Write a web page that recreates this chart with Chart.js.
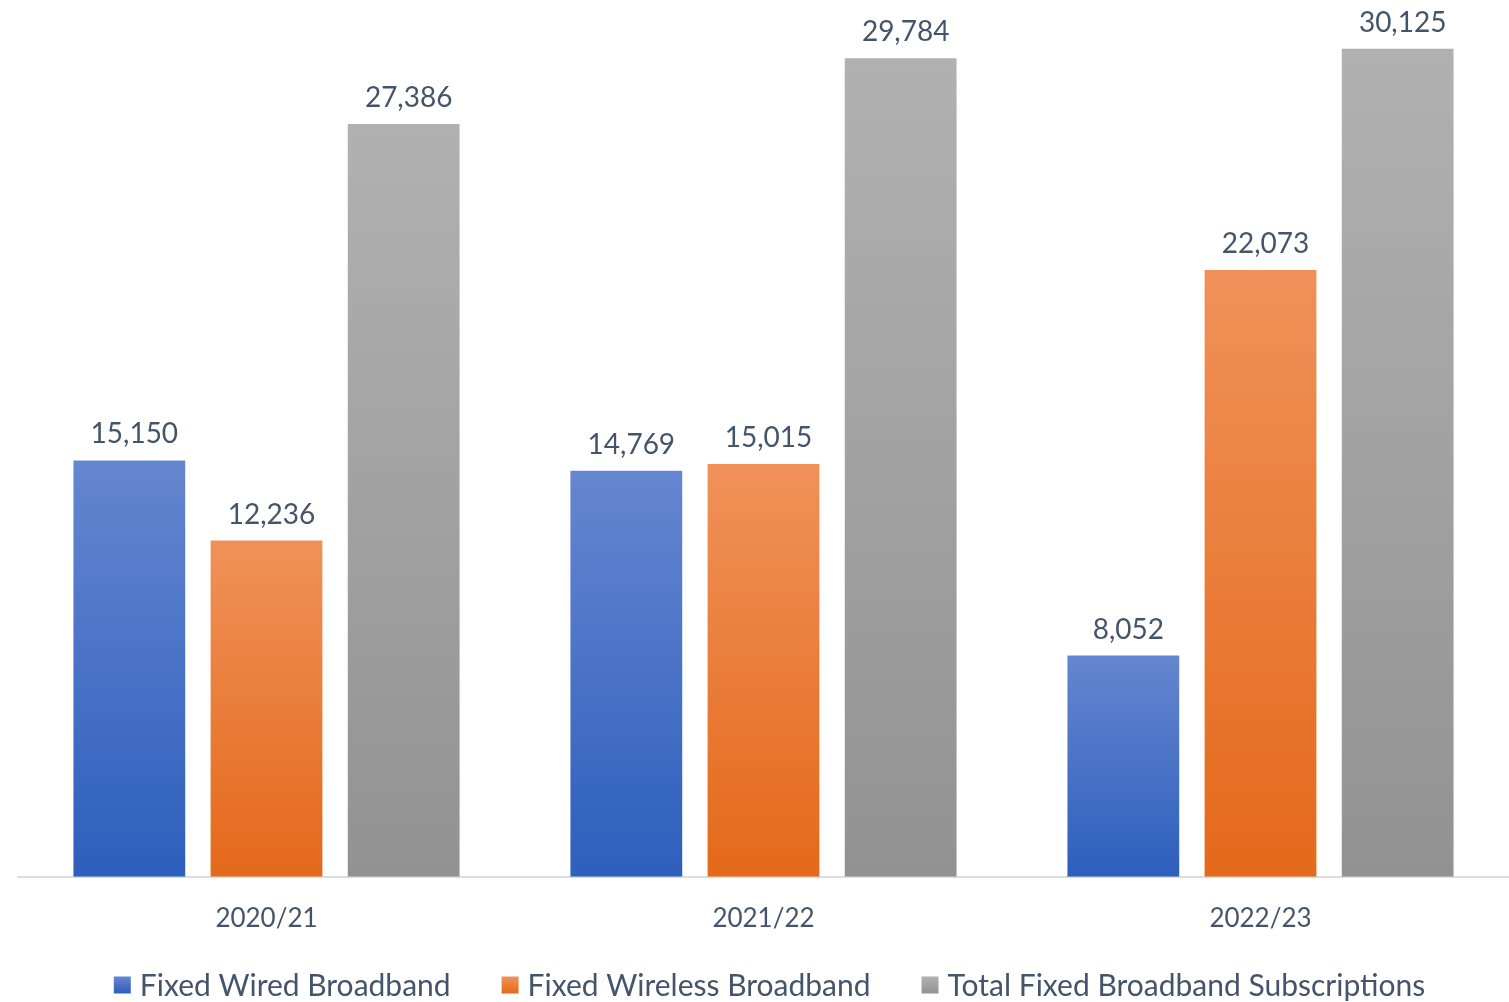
<!DOCTYPE html>
<html>
<head>
<meta charset="utf-8">
<script src="https://cdn.jsdelivr.net/npm/chart.js@4"></script>
<style>
  html, body { margin: 0; padding: 0; background: #fff; }
  #wrap { width: 1509px; height: 1002px; position: relative; }
</style>
</head>
<body>
<div id="wrap"><canvas id="barChart"></canvas></div>
<script>
var years = ['2020/21', '2021/22', '2022/23'];
var wired = [15150, 14769, 8052];
var wireless = [12236, 15015, 22073];
var total = [27386, 29784, 30125];
var seriesNames = ['Fixed Wired Broadband', 'Fixed Wireless Broadband', 'Total Fixed Broadband Subscriptions'];

var textColor = '#44546a';
var fontFamily = 'Lato, "Open Sans", sans-serif';

// top / bottom colour of each bar's gradient
var shades = [
  ['#6586d0', '#2d5fbc'],
  ['#f09159', '#e4691a'],
  ['#b1b1b1', '#929292']
];

function barFill(idx) {
  return function(context) {
    var chart = context.chart;
    var area = chart.chartArea;
    if (!area || context.type !== 'data') return shades[idx][1];
    var yScale = chart.scales.y;
    var top = yScale.getPixelForValue(context.raw);
    var base = yScale.getPixelForValue(0);
    var g = chart.ctx.createLinearGradient(0, top, 0, base);
    g.addColorStop(0, shades[idx][0]);
    g.addColorStop(1, shades[idx][1]);
    return g;
  };
}

var valueLabels = {
  id: 'valueLabels',
  afterDatasetsDraw: function(chart) {
    var ctx = chart.ctx;
    ctx.save();
    ctx.font = '28px ' + fontFamily;
    ctx.fillStyle = textColor;
    ctx.textAlign = 'center';
    ctx.textBaseline = 'bottom';
    chart.data.datasets.forEach(function(ds, i) {
      var meta = chart.getDatasetMeta(i);
      meta.data.forEach(function(bar, j) {
        ctx.fillText(ds.data[j].toLocaleString('en-US'), bar.x + 5, bar.y - 12);
      });
    });
    ctx.restore();
  }
};

// legend row along the bottom, drawn by hand so the spacing can match
var bottomLegend = {
  id: 'bottomLegend',
  afterDraw: function(chart) {
    var ctx = chart.ctx;
    var box = 17, gapText = 9, gapItem = 51, y = 985;
    ctx.save();
    ctx.font = '30px ' + fontFamily;
    var widths = chart.data.datasets.map(function(ds) {
      return box + gapText + ctx.measureText(ds.label).width;
    });
    var full = widths.reduce(function(a, b) { return a + b; }, 0) + gapItem * (widths.length - 1);
    var x = (chart.chartArea.left + chart.chartArea.right) / 2 + 6 - full / 2;
    ctx.textBaseline = 'middle';
    ctx.textAlign = 'left';
    chart.data.datasets.forEach(function(ds, i) {
      var g = ctx.createLinearGradient(0, y - box / 2, 0, y + box / 2);
      g.addColorStop(0, shades[i][0]);
      g.addColorStop(1, shades[i][1]);
      ctx.fillStyle = g;
      ctx.fillRect(x, y - box / 2, box, box);
      ctx.fillStyle = textColor;
      ctx.fillText(ds.label, x + box + gapText, y + 1);
      x += widths[i] + gapItem;
    });
    ctx.restore();
  }
};

var barData = {
  labels: years,
  datasets: [
    { label: seriesNames[0], data: wired, backgroundColor: barFill(0) },
    { label: seriesNames[1], data: wireless, backgroundColor: barFill(1) },
    { label: seriesNames[2], data: total, backgroundColor: barFill(2) }
  ]
};

var barOptions = {
  responsive: true,
  maintainAspectRatio: false,
  animation: false,
  categoryPercentage: 0.828,
  barPercentage: 0.815,
  layout: { padding: { left: 18, right: -6, top: 0, bottom: 50 } },
  plugins: {
    tooltip: { enabled: false },
    legend: { display: false }
  },
  scales: {
    x: {
      grid: { display: false },
      border: { display: true, color: '#d9dde3', width: 2 },
      ticks: { color: textColor, font: { family: fontFamily, size: 26 }, padding: 18 }
    },
    y: {
      display: false,
      min: 0,
      max: 31900
    }
  }
};

var ctx = document.getElementById('barChart').getContext('2d');
new Chart(ctx, { type: 'bar', data: barData, options: barOptions, plugins: [valueLabels, bottomLegend] });
</script>
</body>
</html>
